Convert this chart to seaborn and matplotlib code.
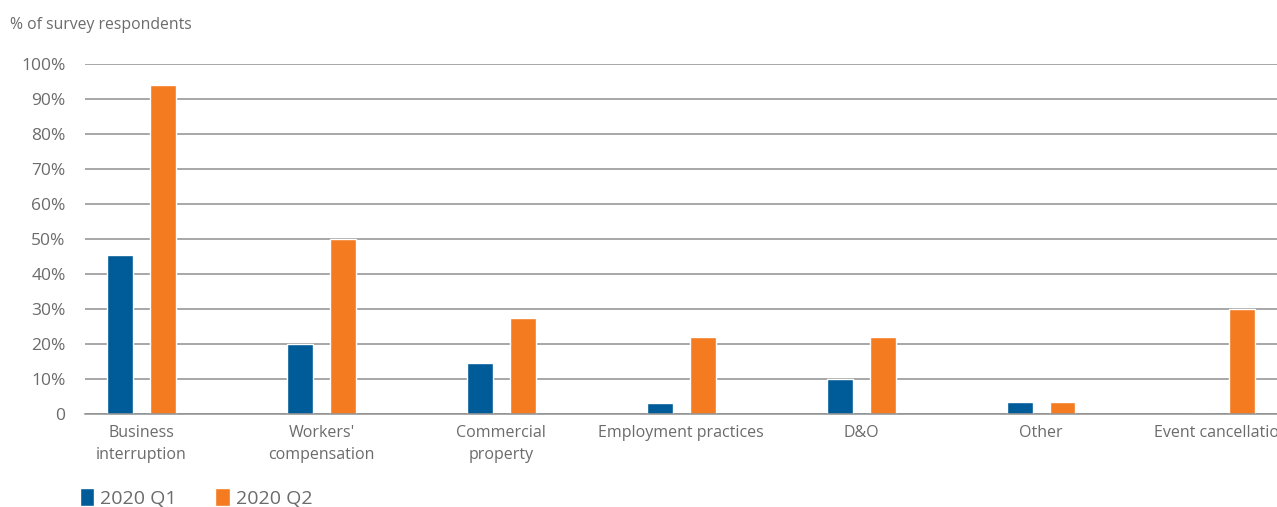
import pandas as pd
import matplotlib
matplotlib.use("Agg")
import matplotlib.pyplot as plt
from matplotlib.patches import Patch
import seaborn as sns

# values (% of survey respondents)
categories = ["Business\ninterruption", "Workers'\ncompensation", "Commercial\nproperty",
              "Employment practices", "D&O", "Other", "Event cancellation"]
q1_values = [45.5, 20, 14.7, 3.2, 10, 3.5, 0]
q2_values = [94, 50, 27.5, 22, 22, 3.5, 30]
series_names = ["2020 Q1", "2020 Q2"]
y_ticks = [0, 10, 20, 30, 40, 50, 60, 70, 80, 90, 100]
y_tick_labels = ["0"] + [f"{v}%" for v in y_ticks[1:]]

df = pd.DataFrame({
    "category": categories * 2,
    "series": [series_names[0]] * len(categories) + [series_names[1]] * len(categories),
    "value": q1_values + q2_values,
})

blue = "#005C99"
orange = "#F47B20"
grey_text = "#6b6b6b"
grid_col = "#8f8f8f"

sns.set_style("white")
plt.rcParams["font.family"] = ["Open Sans", "DejaVu Sans"]

fig = plt.figure(figsize=(12.77, 5.07), dpi=100)
W, H = 1277, 507
ax = fig.add_axes([85 / W, (H - 414) / H, (1277 - 85) / W, (414 - 64) / H])

sns.barplot(data=df, x="category", y="value", hue="series", order=categories,
            palette=[blue, orange], width=0.472, gap=0.388, saturation=1,
            legend=False, ax=ax)

ax.set_xlim(-0.314, 6.31)
ax.set_ylim(0, 100)
ax.set_yticks(y_ticks)
ax.set_yticklabels(y_tick_labels)
ax.yaxis.grid(True, color=grid_col, linewidth=1.1)
ax.set_axisbelow(True)
for s in ["top", "right", "left"]:
    ax.spines[s].set_visible(False)
ax.spines["bottom"].set_color(grid_col)
ax.spines["bottom"].set_linewidth(1.1)
ax.tick_params(axis="both", length=0, colors=grey_text)
ax.tick_params(axis="y", pad=14, labelsize=12.5)
ax.tick_params(axis="x", pad=8, labelsize=11.5)
for lbl in ax.get_xticklabels():
    lbl.set_linespacing(1.45)
ax.set_xlabel("")
ax.set_ylabel("")

fig.text(10 / W, 1 - 25 / H, "% of survey respondents", fontsize=11.3,
         color=grey_text, va="center", ha="left")

handles = [Patch(facecolor=blue, label=series_names[0]),
           Patch(facecolor=orange, label=series_names[1])]
fig.legend(handles=handles, loc="center left", bbox_to_anchor=(62 / W, 1 - 498 / H),
           ncol=2, frameon=False, fontsize=14, handlelength=0.75, handleheight=1.0,
           handletextpad=0.3, columnspacing=2.0, labelcolor=grey_text)

fig.savefig("out.png", dpi=100)
